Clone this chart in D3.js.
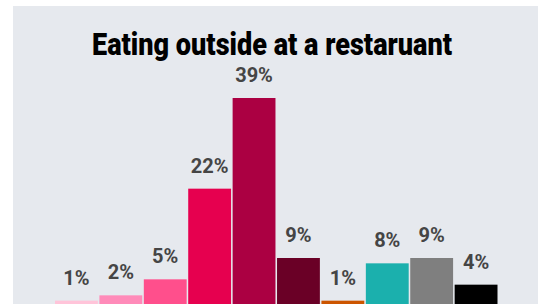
<!DOCTYPE html>
<html>
<head>
<meta charset="utf-8">
<script src="https://cdn.jsdelivr.net/npm/d3@7"></script>
<style>
  body { margin: 0; background: #fff; }
  svg { display: block; }
</style>
</head>
<body>
<div id="chart"></div>
<script>
// categories are not printed on the chart, only used as keys
var categories = ["c1", "c2", "c3", "c4", "c5", "c6", "c7", "c8", "c9", "c10"];
var values = [1, 2, 5, 22, 39, 9, 1, 8, 9, 4];
var colors = ["#ffc4d9", "#ff8bb9", "#ff4f8c", "#e6004f", "#ab0042", "#6a0026", "#cc5500", "#1bb0ad", "#7f7f7f", "#000000"];
var title = "Eating outside at a restaruant";

var width = 538, height = 304;

var svg = d3.select("#chart")
  .append("svg")
  .attr("width", width)
  .attr("height", height);

// grey panel
svg.append("rect")
  .attr("x", 13)
  .attr("y", 6)
  .attr("width", width - 13)
  .attr("height", height - 6)
  .style("fill", "#e6e9ee");

var x = d3.scaleBand()
  .domain(categories)
  .range([55, 497.5])
  .paddingInner(0.035)
  .paddingOuter(0);

var y = d3.scaleLinear()
  .domain([0, 39])
  .range([306, 98]);

svg.append("g")
  .selectAll("rect").data(values)
  .enter().append("rect")
  .attr("x", function(d, i) { return x(categories[i]); })
  .attr("y", function(d) { return y(d); })
  .attr("width", x.bandwidth())
  .attr("height", function(d) { return y(0) - y(d); })
  .style("fill", function(d, i) { return colors[i]; });

svg.append("g")
  .selectAll("text").data(values)
  .enter().append("text")
  .attr("x", function(d, i) { return x(categories[i]) + x.bandwidth() / 2; })
  .attr("y", function(d) { return y(d) - 16; })
  .attr("text-anchor", "middle")
  .style("font-family", "Roboto, sans-serif")
  .style("font-weight", "bold")
  .style("font-size", "20px")
  .style("fill", "#454545")
  .text(function(d) { return d + "%"; });

var t = svg.append("text")
  .attr("x", 272)
  .attr("y", 55)
  .attr("text-anchor", "middle")
  .style("font-family", "Roboto, sans-serif")
  .style("font-weight", "900")
  .style("font-size", "31px")
  .style("fill", "#000")
  .text(title);
// squeeze to the condensed width of the original title
t.attr("textLength", 360).attr("lengthAdjust", "spacingAndGlyphs");
</script>
</body>
</html>
